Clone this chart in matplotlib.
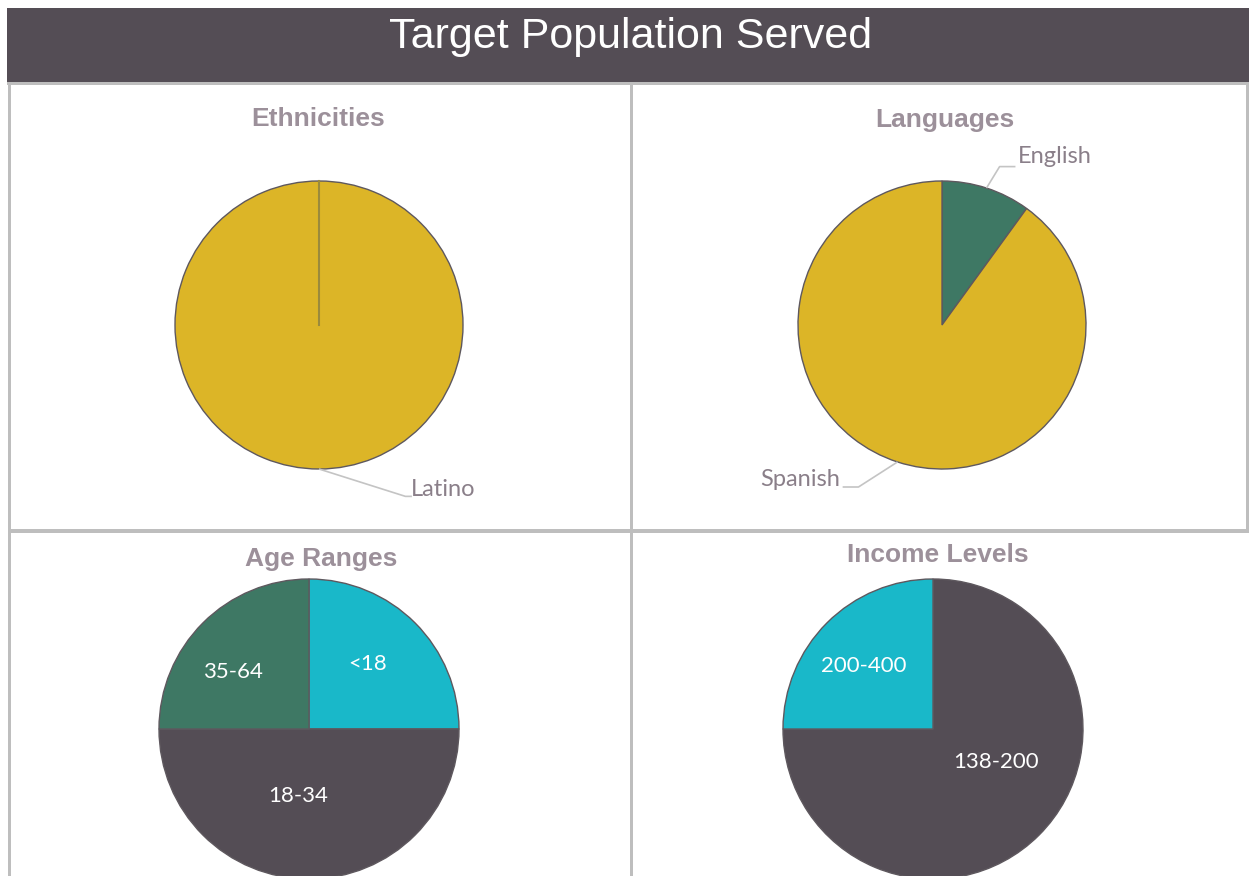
import numpy as np
import matplotlib
matplotlib.use('Agg')
import matplotlib.pyplot as plt
from matplotlib.patches import Rectangle

# data
eth_labels = ['Latino']
eth_values = [100]
lang_labels = ['English', 'Spanish']
lang_values = [10, 90]
age_labels = ['<18', '18-34', '35-64']
age_values = [25, 50, 25]
inc_labels = ['138-200', '200-400']
inc_values = [75, 25]

GOLD = '#DCB527'
GREEN = '#3E7864'
CYAN = '#19B8C9'
DARK = '#544D55'
BORDER = '#BEBEBE'
TITLE_GRAY = '#9C909A'
LABEL_GRAY = '#8A7F89'
LEADER = '#C4C4C4'
EDGE = '#5E585E'

W, H = 1249, 876
fig = plt.figure(figsize=(W / 100, H / 100), dpi=100)
ax = fig.add_axes([0, 0, 1, 1])


def Y(py):
    return H - py


def pie(values, colors, cx, cy, r):
    wedges, _ = ax.pie(values, colors=colors, startangle=90, counterclock=False,
                       center=(cx, Y(cy)), radius=r, frame=True,
                       wedgeprops=dict(edgecolor=EDGE, linewidth=1.0))
    return wedges


def mid(w):
    return np.deg2rad((w.theta1 + w.theta2) / 2)


def outside_label(w, text, elbow, hend, tpos, ha):
    cx, cy = w.center
    r = w.r
    a = mid(w)
    p0 = (cx + r * np.cos(a), cy + r * np.sin(a))
    p1 = (cx + elbow[0] * r, cy + elbow[1] * r)
    p2 = (cx + hend * r, p1[1])
    ax.plot([p0[0], p1[0], p2[0]], [p0[1], p1[1], p2[1]], color=LEADER, lw=1.2,
            solid_capstyle='butt', zorder=3)
    ax.text(cx + tpos[0] * r, cy + tpos[1] * r, text, ha=ha, va='center',
            fontsize=17, color=LABEL_GRAY, family='Lato', zorder=4)


def inside_label(w, text, off):
    cx, cy = w.center
    ax.text(cx + off[0] * w.r, cy + off[1] * w.r, text, ha='center', va='center',
            fontsize=16, color='white', family='Lato', zorder=4)


# title bar and panel borders
ax.add_patch(Rectangle((7, Y(82)), W - 7, 74, facecolor=DARK, edgecolor='none', zorder=1))
ax.text(631, Y(37), 'Target Population Served', ha='center', va='center',
        fontsize=31, color='white', family='Liberation Sans', zorder=2)
for x0, y0, w, h in [(7, 82, W - 7, 2.5), (8, 82, 3, H - 82), (630, 84, 3, H - 84),
                     (8, 529, W - 8, 3.5), (1246, 84, 3, 446)]:
    ax.add_patch(Rectangle((x0, Y(y0 + h)), w, h, facecolor=BORDER, edgecolor='none', zorder=5))

# panel titles
for x, y, t in [(318.5, 119, 'Ethnicities'), (945, 120, 'Languages'),
                (321.5, 559, 'Age Ranges'), (938, 555, 'Income Levels')]:
    ax.text(x, Y(y), t, ha='center', va='center', fontsize=19, fontweight='bold',
            color=TITLE_GRAY, family='Liberation Sans')

# Ethnicities
ew = pie(eth_values, [GOLD], 319, 325, 144)
c = ew[0].center
ax.plot([c[0], c[0]], [c[1], c[1] + ew[0].r], color='#9A8A3C', lw=1.5, zorder=3)
outside_label(ew[0], eth_labels[0], (0.60, -1.19), 0.645, (0.635, -1.14), 'left')

# Languages
lw_ = pie(lang_values, [GREEN, GOLD], 942, 325, 144)
outside_label(lw_[0], lang_labels[0], (0.40, 1.10), 0.51, (0.53, 1.17), 'left')
outside_label(lw_[1], lang_labels[1], (-0.58, -1.125), -0.69, (-0.71, -1.075), 'right')

# Age Ranges
aw = pie(age_values, [CYAN, DARK, GREEN], 309, 729, 150)
for w, t, off in zip(aw, age_labels, [(0.39, 0.43), (-0.07, -0.45), (-0.51, 0.38)]):
    inside_label(w, t, off)

# Income Levels
iw = pie(inc_values, [DARK, CYAN], 933, 729, 150)
for w, t, off in zip(iw, inc_labels, [(0.42, -0.22), (-0.46, 0.42)]):
    inside_label(w, t, off)

ax.set_xlim(0, W)
ax.set_ylim(0, H)
ax.set_aspect('auto')
ax.axis('off')

fig.savefig('out.png', dpi=100)
